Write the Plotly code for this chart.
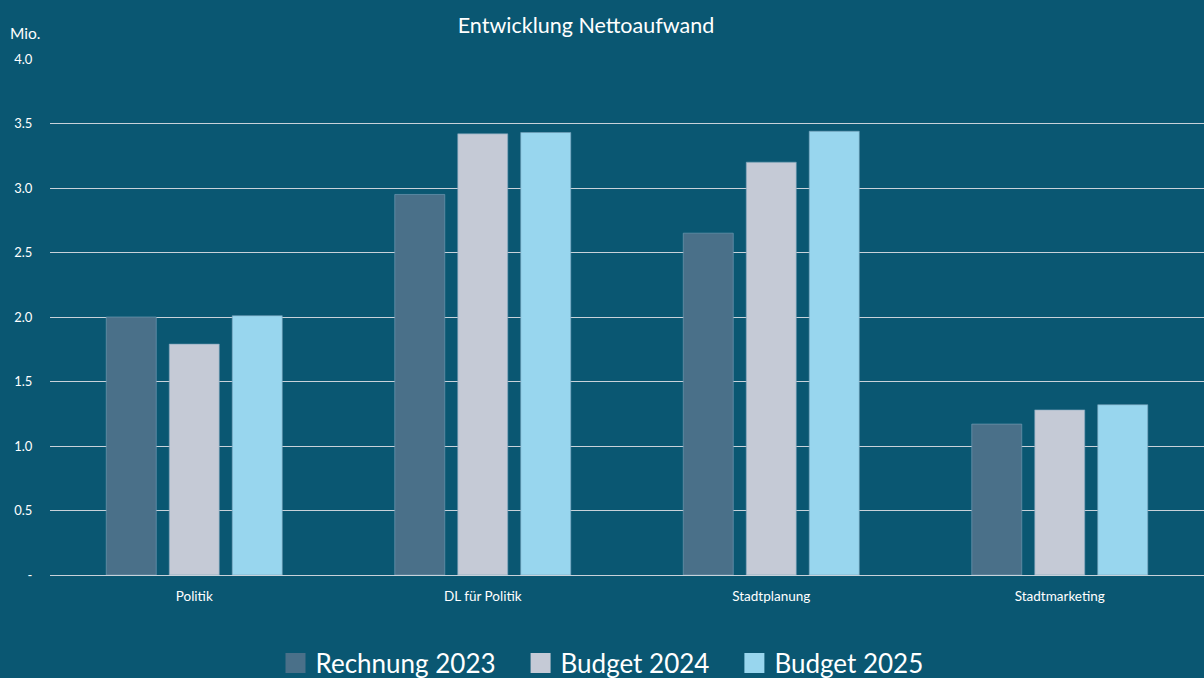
import plotly.graph_objects as go

categories = ["Politik", "DL für Politik", "Stadtplanung", "Stadtmarketing"]
rechnung_2023 = [2.00, 2.95, 2.65, 1.17]
budget_2024 = [1.79, 3.42, 3.20, 1.28]
budget_2025 = [2.01, 3.43, 3.44, 1.32]

y_tickvals = [0, 0.5, 1.0, 1.5, 2.0, 2.5, 3.0, 3.5, 4.0]
y_ticktext = ["-", "0.5", "1.0", "1.5", "2.0", "2.5", "3.0", "3.5", "4.0"]

BG = "#0A5772"
FONT = "Lato, 'Open Sans', sans-serif"

series = [
    ("Rechnung 2023", rechnung_2023, "#4A7089"),
    ("Budget 2024", budget_2024, "#C5CAD6"),
    ("Budget 2025", budget_2025, "#98D6EE"),
]

fig = go.Figure()
for name, vals, col in series:
    fig.add_trace(go.Bar(
        x=categories, y=vals, name=name, showlegend=False,
        marker=dict(color=col, line=dict(color="rgba(120,160,185,0.6)", width=1)),
    ))
# legend entries with larger square swatches
for i, (name, vals, col) in enumerate(series):
    label = name + ("\u00a0\u00a0\u00a0" if i < len(series) - 1 else "")
    fig.add_trace(go.Scatter(
        x=[None], y=[None], name=label, mode="markers",
        marker=dict(symbol="square", size=16, color=col,
                    line=dict(color=col, width=4)),
    ))

fig.update_layout(
    width=1204, height=678,
    paper_bgcolor=BG, plot_bgcolor=BG,
    margin=dict(l=50, r=0, t=59, b=103),
    barmode="group", bargap=0.345, bargroupgap=0.206,
    font=dict(family=FONT, color="#FFFFFF"),
    title=dict(text="Entwicklung Nettoaufwand", x=586/1204, xanchor="center",
               y=1-25/678, yanchor="middle",
               font=dict(size=21.5, color="#FFFFFF", family=FONT)),
    showlegend=True,
    legend=dict(orientation="h", xref="container", yref="container",
                x=0.5, xanchor="center", y=1-663/678, yanchor="middle",
                font=dict(size=26, color="#FFFFFF", family=FONT),
                itemsizing="trace", itemwidth=30, tracegroupgap=0),
    xaxis=dict(showgrid=False, showline=False, zeroline=False,
               tickfont=dict(size=13.5, color="#FFFFFF", family=FONT),
               ticks="outside", ticklen=9, tickcolor=BG),
    yaxis=dict(range=[0, 4.0], tickvals=y_tickvals, ticktext=y_ticktext,
               showgrid=True, gridcolor="#C8D2DA", gridwidth=1.3,
               zeroline=True, zerolinecolor="#C8D2DA", zerolinewidth=1.3,
               showline=False,
               ticks="outside", ticklen=14, tickcolor=BG,
               tickfont=dict(size=13, color="#FFFFFF", family=FONT)),
    annotations=[dict(text="Mio.", xref="paper", yref="paper",
                      x=-25/1154, y=(575-33)/516, xanchor="center", yanchor="middle",
                      showarrow=False, font=dict(size=15.5, color="#FFFFFF", family=FONT))],
)

fig.write_html("out.html", config={"displayModeBar": False},
               post_script="document.body.style.margin='0';document.body.style.padding='0';")
